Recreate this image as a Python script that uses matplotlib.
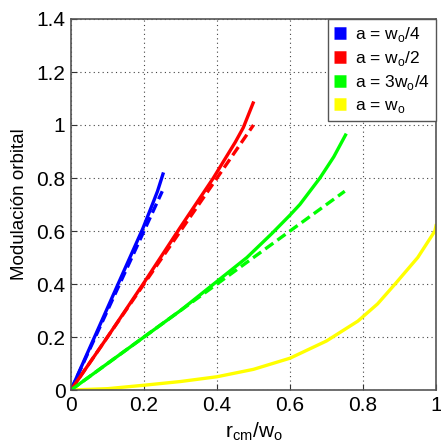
import matplotlib.pyplot as plt
import numpy as np

plt.rcParams['font.family'] = ['Liberation Sans', 'DejaVu Sans']

# curvas medidas (trazo continuo)
x_a1 = [0, 0.05, 0.10, 0.129, 0.15, 0.197, 0.22, 0.237, 0.252]
y_a1 = [0, 0.155, 0.31, 0.40, 0.465, 0.61, 0.69, 0.75, 0.815]
x_a2 = [0, 0.10, 0.20, 0.30, 0.39, 0.45, 0.472, 0.499]
y_a2 = [0, 0.20, 0.405, 0.615, 0.80, 0.935, 0.99, 1.083]
x_a3 = [0, 0.20, 0.30, 0.40, 0.482, 0.55, 0.60, 0.627, 0.682, 0.72, 0.752]
y_a3 = [0, 0.20, 0.30, 0.41, 0.50, 0.59, 0.66, 0.70, 0.80, 0.88, 0.962]
x_a4 = [0, 0.10, 0.20, 0.30, 0.40, 0.50, 0.60, 0.70, 0.786, 0.84, 0.888, 0.95, 0.997, 1.0]
y_a4 = [0, 0.005, 0.018, 0.032, 0.05, 0.078, 0.12, 0.185, 0.26, 0.325, 0.40, 0.50, 0.60, 0.62]

# aproximaciones lineales (trazo discontinuo)
xd_a1 = [0, 0.25]
yd_a1 = [0, 0.75]
xd_a2 = [0, 0.5]
yd_a2 = [0, 1.0]
xd_a3 = [0, 0.75]
yd_a3 = [0, 0.75]

labels = ['a = w$_\\mathregular{o}$/4', 'a = w$_\\mathregular{o}$/2',
          'a = 3w$_\\mathregular{o}$/4', 'a = w$_\\mathregular{o}$']
colors = ['#0000ff', '#ff0000', '#00ff00', '#ffff00']

fig = plt.figure(figsize=(4.41, 4.44), dpi=100)
ax = fig.add_axes([71/441, 1 - 390/444, 365/441, 371/444])

curves = [(x_a1, y_a1), (x_a2, y_a2), (x_a3, y_a3), (x_a4, y_a4)]
dashed = [(xd_a1, yd_a1), (xd_a2, yd_a2), (xd_a3, yd_a3)]
handles = []
for (x, y), c, lab in zip(curves, colors, labels):
    h, = ax.plot(x, y, color=c, lw=2.4, label=lab, solid_joinstyle='round')
    handles.append(h)
for (x, y), c in zip(dashed, colors):
    ax.plot(x, y, color=c, lw=2.4, ls=(0, (3, 1.5)))

ax.set_xlim(0, 1)
ax.set_ylim(0, 1.4)
ax.set_xticks([0, 0.2, 0.4, 0.6, 0.8, 1])
ax.set_xticklabels(['0', '0.2', '0.4', '0.6', '0.8', '1'])
ax.set_yticks([0, 0.2, 0.4, 0.6, 0.8, 1, 1.2, 1.4])
ax.set_yticklabels(['0', '0.2', '0.4', '0.6', '0.8', '1', '1.2', '1.4'])
ax.tick_params(direction='in', length=4, labelsize=15, color='#333333', pad=4)
ax.grid(True, ls=(0, (1, 3)), color='#444444', lw=0.8)
for s in ax.spines.values():
    s.set_color('#555555')
    s.set_linewidth(1.2)

ax.set_xlabel('r$_\\mathregular{cm}$/w$_\\mathregular{o}$', fontsize=15, labelpad=4)
ax.set_ylabel('Modulación orbital', fontsize=13.5, labelpad=6)

leg = ax.legend(handles=handles, loc='upper right', fontsize=12.5,
                handlelength=0.7, handleheight=0.7, handletextpad=0.5,
                borderaxespad=0, fancybox=False, framealpha=1,
                edgecolor='#555555', labelspacing=0.3, borderpad=0.35)
for lh in leg.legend_handles:
    lh.set_linewidth(9)
    lh.set_solid_capstyle('butt')

fig.savefig('out.png', dpi=100)
